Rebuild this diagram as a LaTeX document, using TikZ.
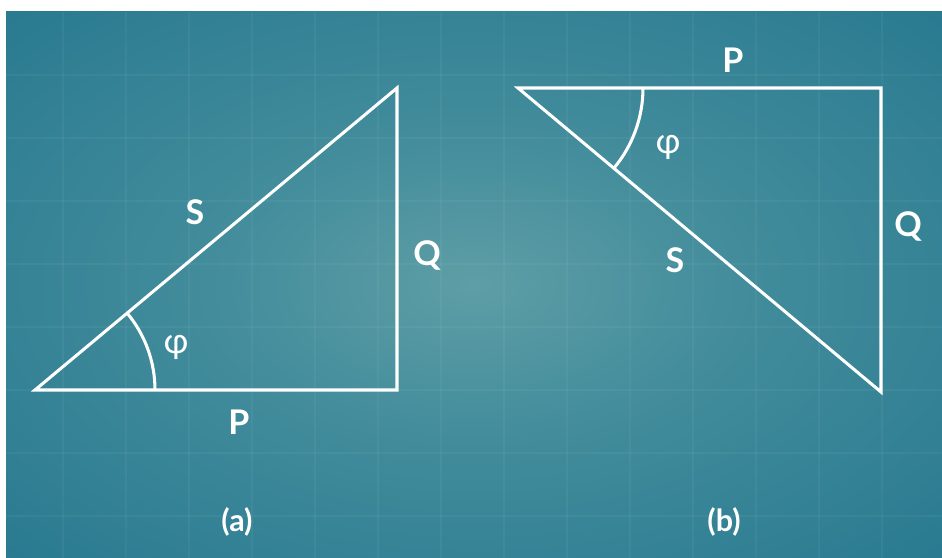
\documentclass[tikz,border=0pt]{standalone}
\usepackage{fontspec}
\setmainfont{Lato}
\newfontfamily\greekfont{Carlito}
\usepackage{tikz}
\pgfdeclareradialshading{bgglow}{\pgfpoint{0bp}{0bp}}{rgb(0bp)=(0.37,0.62,0.65);rgb(14bp)=(0.26,0.55,0.61);rgb(38bp)=(0.15,0.47,0.56);rgb(50bp)=(0.13,0.46,0.55)}
\tikzset{side/.style={white,line width=2.6pt},
  gridline/.style={white,opacity=0.045,line width=1.3pt},
  lbl/.style={white,font=\fontsize{29}{29}\selectfont\bfseries,inner sep=0pt,anchor=base},
  ang/.style={white,font=\fontsize{32}{32}\selectfont\greekfont,inner sep=0pt},
  caption/.style={white,font=\fontsize{26}{26}\selectfont\bfseries,inner sep=0pt}}

\begin{document}
\begin{tikzpicture}[x=0.03cm,y=0.03cm]
\useasboundingbox (0,0) rectangle (942,558);
\fill[white] (0,0) rectangle (942,558);
\shade[shading=bgglow] (6,0) rectangle (942,546);
\foreach \x in {63,126,...,882} \draw[gridline] (\x,0) -- (\x,546);
\foreach \y in {42,105,...,483} \draw[gridline] (6,\y) -- (942,\y);
% (a)
\coordinate (a1) at (35,168); \coordinate (a2) at (397,168); \coordinate (a3) at (397,470);
\draw[side] (a1) -- (a2) -- (a3) -- cycle;
\draw[side] (a1) ++(120,0) arc[start angle=0,end angle=39.8,radius=120];
\node[lbl] (sa) at (195,333) {S};
\node[lbl] (pa) at (239,123) {P};
\node[lbl] (qa) at (427,292) {Q};
\node[ang] (phia) at (176,211) {φ};
\node[caption] (capa) at (237,36) {(a)};
% (b)
\coordinate (b1) at (518,470); \coordinate (b2) at (881,470); \coordinate (b3) at (881,166);
\draw[side] (b1) -- (b2) -- (b3) -- cycle;
\draw[side] (b1) ++(125,0) arc[start angle=0,end angle=-39.9,radius=125];
\node[lbl] (pb) at (733,485) {P};
\node[lbl] (sb) at (675,285) {S};
\node[lbl] (qb) at (908,321) {Q};
\node[ang] (phib) at (668,411) {φ};
\node[caption] (capb) at (724,36) {(b)};
\end{tikzpicture}
\end{document}
